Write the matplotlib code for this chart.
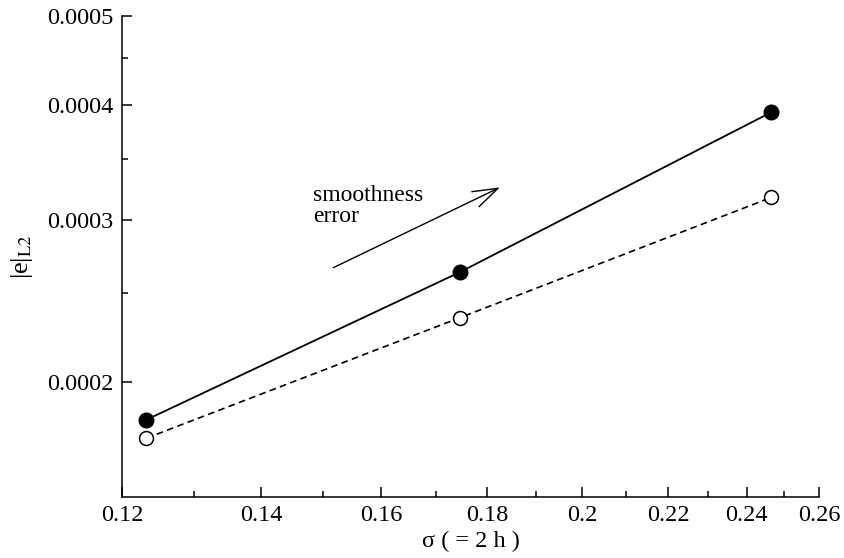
import matplotlib

matplotlib.use("Agg")

import matplotlib.pyplot as plt
from matplotlib.ticker import NullFormatter

plt.rcParams["font.family"] = ["Liberation Serif", "DejaVu Serif"]
plt.rcParams["mathtext.fontset"] = "stix"
plt.rcParams["font.size"] = 17

# grid spacing sigma (= 2h) and L2 error norms
sigma = [0.1233, 0.1746, 0.2466]
err_smooth = [0.000182, 0.0002634, 0.000393]
err_other = [0.0001738, 0.000235, 0.0003175]

x_major = [0.12, 0.14, 0.16, 0.18, 0.20, 0.22, 0.24, 0.26]
x_major_labels = ["0.12", "0.14", "0.16", "0.18", "0.2", "0.22", "0.24", "0.26"]
x_minor = [0.13, 0.15, 0.17, 0.19, 0.21, 0.23, 0.25]
y_major = [0.0002, 0.0003, 0.0004, 0.0005]
y_major_labels = ["0.0002", "0.0003", "0.0004", "0.0005"]
y_minor = [0.00025, 0.00035, 0.00045]


def main():
    fig = plt.figure(figsize=(8.44, 5.58), dpi=100)
    ax = fig.add_axes([0.1445, 0.1093, 0.8259, 0.862])

    ax.plot(sigma, err_smooth, color="black", lw=1.3, marker="o",
            markersize=10.5, markerfacecolor="black", markeredgecolor="black")
    ax.plot(sigma, err_other, color="black", lw=1.2, linestyle=(0, (4, 2.6)),
            marker="o", markersize=10, markerfacecolor="white",
            markeredgecolor="black", markeredgewidth=1.1)

    ax.set_xscale("log")
    ax.set_yscale("log")
    ax.set_xlim(0.12, 0.26)
    ax.set_ylim(0.00015, 0.0005)

    ax.set_xticks(x_major, x_major_labels)
    ax.set_xticks(x_minor, minor=True)
    ax.xaxis.set_minor_formatter(NullFormatter())
    ax.set_yticks(y_major, y_major_labels)
    ax.set_yticks(y_minor, minor=True)
    ax.yaxis.set_minor_formatter(NullFormatter())

    ax.tick_params(which="both", direction="in", width=1.1, labelsize=17.5)
    ax.tick_params(which="major", length=7, pad=6)
    ax.tick_params(which="minor", length=4)

    ax.spines["top"].set_visible(False)
    ax.spines["right"].set_visible(False)
    ax.spines["left"].set_linewidth(1.1)
    ax.spines["bottom"].set_linewidth(1.1)

    ax.set_xlabel("σ ( = 2 h )", fontsize=17.5, labelpad=3)
    fig.text(0.026, 0.54, r"|e|$_{\mathrm{L2}}$", rotation=90,
             ha="center", va="center", fontsize=19)

    ax.annotate("", xy=(0.1825, 0.0003256), xytext=(0.1517, 0.0002663),
                arrowprops=dict(arrowstyle="->, head_length=0.9, head_width=0.3",
                                mutation_scale=20, lw=1.0, color="black",
                                shrinkA=0, shrinkB=0))
    ax.text(0.1483, 0.000311, "smoothness\nerror", ha="left", va="center",
            fontsize=17, linespacing=1.0)

    fig.savefig("out.png", dpi=100)
    plt.close(fig)


if __name__ == "__main__":
    main()
